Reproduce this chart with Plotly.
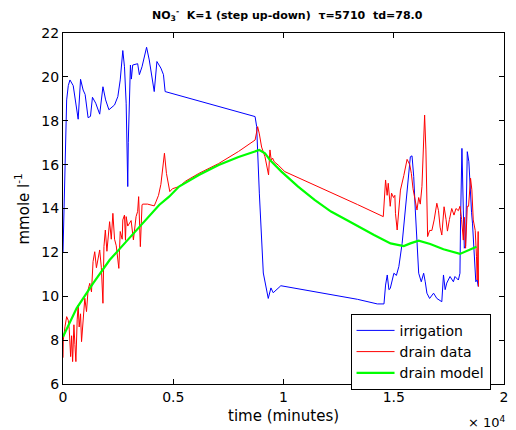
import plotly.graph_objects as go

# ---- data (time in minutes, concentration in mmole/l) ----
irr_t = [0, 20, 60, 100, 166, 240, 315, 463, 585, 688, 796, 913, 1003, 1138, 1246, 1336, 1484, 1664,
         1812, 1934, 2082, 2338, 2487, 2595, 2712, 2788, 2865, 2900, 2937, 2960, 3013, 3058, 3100, 3161,
         3386, 3463, 3584, 3791, 3912, 4034, 4137, 4259, 4439, 4556, 4632, 8711, 8783, 8904, 9084, 9309,
         9430, 9534, 9880, 13356, 14255, 14557, 14629, 14705, 14780, 14840, 15007, 15120, 15231, 15380,
         15528, 15681, 15753, 15829, 15906, 15978, 16054, 16131, 16248, 16356, 16428, 16504, 16626, 16806,
         16954, 17179, 17255, 17331, 17403, 17552, 17705, 17777, 17930, 18002, 18033, 18092, 18155, 18200,
         18258, 18335, 18407, 18452, 18528, 18573, 18631, 18676, 18721, 18784, 18829]
irr_v = [12.0, 13.0, 14.8, 16.0, 18.95, 19.6, 19.86, 19.6, 18.64, 18.07, 19.89, 19.4, 19.2, 18.14, 18.2,
         19.07, 18.8, 18.3, 19.55, 18.95, 18.5, 18.72, 19.1, 19.86, 21.2, 20.46, 18.8, 16.0, 15.0, 17.0,
         18.64, 20.54, 19.9, 20.54, 20.6, 20.1, 20.46, 21.35, 20.77, 20.0, 19.33, 20.7, 20.4, 20.1, 19.33,
         18.19, 17.73, 14.7, 11.06, 9.9, 10.38, 10.16, 10.48, 9.86, 9.65, 9.65, 10.51, 10.97, 10.3, 10.35,
         11.05, 10.95, 11.35, 12.41, 13.93, 15.45, 16.36, 16.4, 15.45, 13.93, 12.26, 11.05, 10.66, 11.05,
         10.66, 10.14, 9.9, 10.14, 9.9, 9.75, 10.97, 10.3, 10.6, 10.9, 10.66, 10.9, 10.74, 11.05, 13.63,
         16.74, 13.93, 12.19, 12.3, 16.59, 16.13, 15.0, 13.83, 13.3, 11.96, 11.05, 10.66, 10.75, 10.44]

drain_t = [0, 13, 90, 166, 238, 283, 346, 391, 436, 495, 540, 585, 643, 688, 733, 796, 841, 913, 989,
           1066, 1138, 1214, 1291, 1363, 1439, 1515, 1587, 1664, 1740, 1812, 1857, 1920, 1992, 2114, 2190,
           2262, 2338, 2415, 2532, 2595, 2685, 2712, 2788, 2833, 2865, 2937, 3089, 3193, 3314, 3386, 3431,
           3508, 3584, 3611, 3836, 4137, 4214, 4331, 4439, 4601, 4691, 4844, 4961, 5262, 5563, 6161, 7060,
           7960, 8711, 8828, 8904, 9007, 9160, 9264, 9322, 9385, 9444, 9503, 9579, 9759, 10060, 13356,
           14525, 14629, 14700, 14750, 14840, 14900, 14990, 15050, 15078, 15155, 15231, 15304, 15456,
           15605, 15726, 15798, 15874, 15978, 16054, 16131, 16203, 16279, 16324, 16400, 16459, 16504,
           16536, 16626, 16729, 16833, 16954, 17030, 17102, 17179, 17282, 17372, 17435, 17525, 17629,
           17732, 17822, 17930, 18002, 18078, 18155, 18200, 18258, 18335, 18393, 18483, 18542, 18605,
           18695, 18753, 18784, 18829, 18843]
drain_v = [7.2, 8.0, 8.61, 9.07, 8.9, 8.5, 7.25, 8.2, 7.02, 8.7, 7.8, 7.02, 8.92, 9.6, 8.6, 9.2, 7.93,
           8.9, 9.91, 9.3, 10.29, 10.59, 10.2, 11.58, 12.03, 11.3, 11.76, 12.11, 11.3, 9.68, 12.26, 13.02,
           12.05, 13.4, 12.6, 13.78, 12.6, 12.3, 11.27, 12.95, 12.6, 13.48, 13.7, 12.55, 13.63, 13.2,
           13.45, 12.57, 13.63, 13.87, 14.54, 12.26, 14.16, 14.2, 14.2, 14.12, 14.3, 14.6, 15.1, 16.52,
           15.6, 14.77, 14.9, 15.0, 15.25, 15.6, 16.05, 16.6, 17.12, 17.73, 17.4, 16.8, 16.36, 15.76,
           15.53, 16.67, 16.2, 16.3, 16.13, 15.98, 15.68, 14.18, 13.63, 15.3, 14.6, 15.15, 14.1, 14.7,
           14.5, 14.6, 13.78, 13.02, 14.0, 14.84, 15.5, 16.24, 16.0, 15.6, 14.9, 14.39, 13.93, 14.5, 14.2,
           15.0, 16.67, 18.26, 16.67, 14.1, 12.72, 13.0, 13.0, 13.48, 14.24, 13.9, 13.15, 12.79, 14.08,
           13.5, 12.97, 13.5, 14.0, 13.7, 14.0, 13.9, 14.1, 13.5, 12.56, 13.6, 12.19, 14.1, 14.1, 15.38,
           14.85, 13.48, 13.0, 11.8, 10.74, 12.95, 10.44]

model_t = [0, 616, 1363, 2114, 2865, 3611, 4362, 4812, 5262, 6161, 7060, 7960, 8904, 9160, 9385, 9907,
           10662, 11409, 12155, 12906, 13356, 14107, 14854, 15456, 15753, 16131, 16653, 17255, 18002,
           18452, 18753]
model_v = [8.15, 9.45, 10.59, 11.65, 12.49, 13.33, 14.16, 14.54, 15.0, 15.53, 15.98, 16.35, 16.67, 16.52,
           16.21, 15.68, 15.0, 14.39, 13.86, 13.45, 13.2, 12.79, 12.41, 12.29, 12.41, 12.53, 12.38, 12.14,
           11.93, 12.14, 12.26]

x_tickvals = [0, 5000, 10000, 15000, 20000]
x_ticktext = ["0", "0.5", "1", "1.5", "2"]
y_tickvals = [6, 8, 10, 12, 14, 16, 18, 20, 22]

FONT = "DejaVu Sans, Liberation Sans, Arial, sans-serif"

fig = go.Figure()
fig.add_trace(go.Scatter(x=irr_t, y=irr_v, mode="lines", name="irrigation",
                         line=dict(color="#0000FF", width=1)))
fig.add_trace(go.Scatter(x=drain_t, y=drain_v, mode="lines", name="drain data",
                         line=dict(color="#FF0000", width=1)))
fig.add_trace(go.Scatter(x=model_t, y=model_v, mode="lines", name="drain model",
                         line=dict(color="#00FF00", width=2.2)))

axis_common = dict(showgrid=False, zeroline=False, showline=True, linecolor="black", linewidth=1,
                   mirror="ticks", ticks="inside", ticklen=5, tickcolor="black",
                   tickfont=dict(family=FONT, size=14, color="black"))

# page body has an 8px margin, so the figure is sized to fit inside the 516x430 window
fig.update_layout(
    width=508, height=422,
    margin=dict(l=55, r=8, t=25, b=46),
    paper_bgcolor="white", plot_bgcolor="white",
    font=dict(family=FONT, color="black"),
    showlegend=True,
    legend=dict(x=0.652, y=0.2, xanchor="left", yanchor="top",
                bgcolor="white", bordercolor="black", borderwidth=1,
                font=dict(family=FONT, size=14, color="black"),
                tracegroupgap=0, itemwidth=38),
    xaxis=dict(range=[0, 20000], tickvals=x_tickvals, ticktext=x_ticktext, **axis_common),
    yaxis=dict(range=[6, 22], tickvals=y_tickvals, **axis_common),
)

fig.add_annotation(text="<b>NO<sub>3</sub><sup>-</sup>  K=1 (step up-down)  τ=5710  td=78.0</b>",
                   xref="paper", yref="paper", x=0.51, y=1.052, showarrow=False,
                   font=dict(family=FONT, size=11, color="black"), xanchor="center", yanchor="middle")
fig.add_annotation(text="time (minutes)", xref="paper", yref="paper", x=0.5, y=-0.091,
                   showarrow=False, font=dict(family=FONT, size=15, color="black"),
                   xanchor="center", yanchor="middle")
fig.add_annotation(text="mmole l<sup>-1</sup>", xref="paper", yref="paper", x=-0.093, y=0.5,
                   showarrow=False, textangle=-90, font=dict(family=FONT, size=15, color="black"),
                   xanchor="center", yanchor="middle")
fig.add_annotation(text="× 10<sup>4</sup>", xref="paper", yref="paper", x=0.962, y=-0.108,
                   showarrow=False, font=dict(family=FONT, size=13, color="black"),
                   xanchor="center", yanchor="middle")

fig.write_html("out.html")
